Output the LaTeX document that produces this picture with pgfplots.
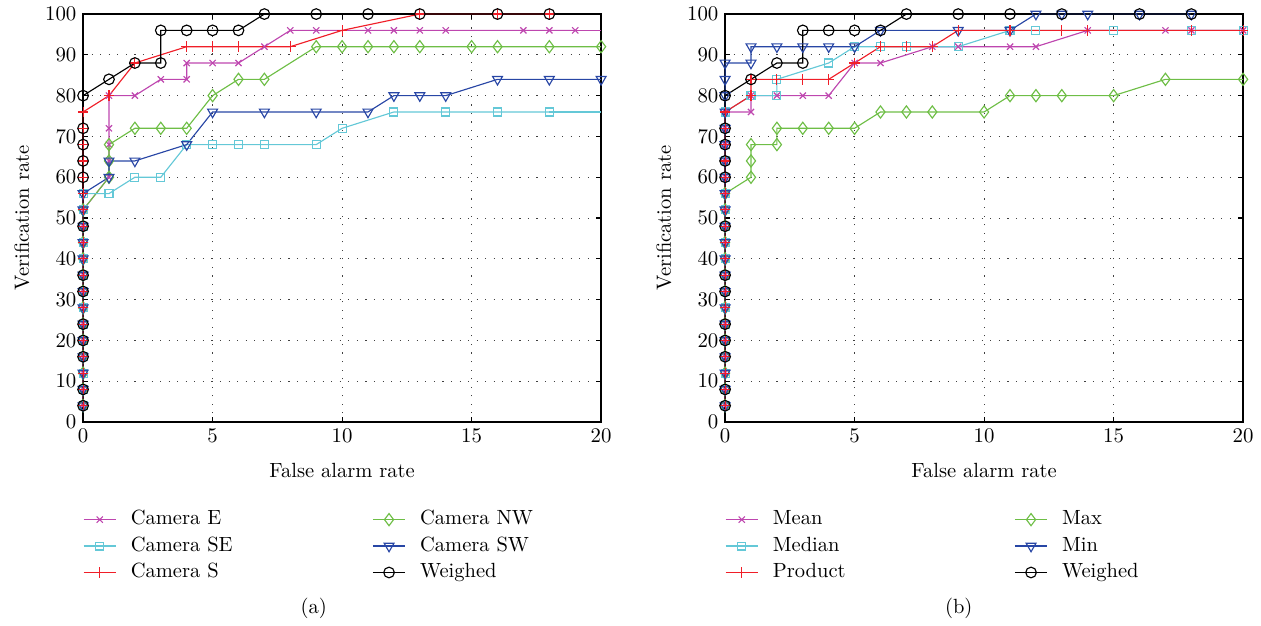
\documentclass[border=0pt]{standalone}
\usepackage{pgfplots}
\pgfplotsset{compat=1.18}
\definecolor{cE}{RGB}{190,70,175}
\definecolor{cSE}{RGB}{100,200,215}
\definecolor{cS}{RGB}{240,30,40}
\definecolor{cNW}{RGB}{110,190,70}
\definecolor{cSW}{RGB}{40,70,165}
\pgfplotsset{
  roc/.style={
    scale only axis, width=272.5pt, height=214.6pt,
    font=\fontsize{10.8}{13}\selectfont,
    xmin=0, xmax=20, ymin=0, ymax=100,
    xtick={0,5,10,15,20}, ytick={0,10,...,100},
    grid=major,
    major grid style={black!75, dash pattern=on 0.6pt off 3.9pt},
    axis line style={black, line width=0.8pt},
    major tick length=2.6pt,
    tick style={black, line width=0.6pt},
    clip=false,
    xlabel={False alarm rate}, ylabel={Verification rate},
    xlabel style={at={(axis description cs:0.5,-0.118)}, anchor=center},
    ylabel style={at={(axis description cs:-0.118,0.5)}, anchor=center, rotate=0},
    legend columns=2,
    legend cell align=left,
    legend style={draw=none, fill=none, at={(axis description cs:-0.012,-0.304)}, anchor=west,
      font=\fontsize{10.8}{13}\selectfont,
      nodes={text height=7.5pt, text depth=2.3pt, inner ysep=2.05pt}, row sep=0pt,
      /tikz/every odd column/.style={column sep=5.5pt}},
  },
  sE/.style={color=cE, line width=0.6pt, mark=x, mark size=2.3pt, mark options={solid}},
  sSE/.style={color=cSE, line width=0.6pt, mark=square, mark size=2.1pt, mark options={solid}},
  sS/.style={color=cS, line width=0.6pt, mark=+, mark size=2.8pt, mark options={solid}},
  sNW/.style={color=cNW, line width=0.6pt, mark=diamond, mark size=3.2pt, mark options={solid}},
  sSW/.style={color=cSW, line width=0.6pt, mark=triangle, mark size=3pt, mark options={solid, rotate=180}},
  sW/.style={color=black, line width=0.6pt, mark=o, mark size=2.8pt, mark options={solid}},
}
\begin{document}
\begin{tikzpicture}
\path[use as bounding box] (0,0) rectangle (663.3pt,328.8pt);
% ---------------- (a)
\begin{axis}[roc, at={(43.7pt,106.8pt)}, anchor=south west]
\addplot[sE] coordinates {(0,4)(0,8)(0,12)(0,16)(0,20)(0,24)(0,28)(0,32)(0,36)(0,40)(0,44)(0,48)(0,52)(1,60)(1,64)(1,68)(1,72)(1,80)(2,80)(3,84)(4,84)(4,88)(5,88)(6,88)(7,92)(8,96)(9,96)(11,96)(12,96)(13,96)(14,96)(17,96)(18,96)(19,96)};
\addlegendentry{\makebox[125pt][l]{Camera E}}
\addplot[sNW] coordinates {(0,4)(0,8)(0,12)(0,16)(0,20)(0,24)(0,28)(0,32)(0,36)(0,40)(0,44)(0,48)(0,52)(1,60)(1,64)(1,68)(2,72)(3,72)(4,72)(5,80)(6,84)(7,84)(9,92)(10,92)(11,92)(12,92)(13,92)(15,92)(16,92)(18,92)(20,92)};
\addlegendentry{Camera NW}
\addplot[sSE] coordinates {(0,4)(0,8)(0,12)(0,16)(0,20)(0,24)(0,28)(0,32)(0,36)(0,40)(0,44)(0,48)(0,52)(0,56)(1,56)(2,60)(3,60)(4,68)(5,68)(6,68)(7,68)(9,68)(10,72)(12,76)(14,76)(16,76)(18,76)};
\addlegendentry{\makebox[125pt][l]{Camera SE}}
\addplot[sSW] coordinates {(0,4)(0,8)(0,12)(0,16)(0,20)(0,24)(0,28)(0,32)(0,36)(0,40)(0,44)(0,48)(0,52)(0,56)(1,60)(1,64)(2,64)(4,68)(5,76)(7,76)(9,76)(11,76)(12,80)(13,80)(14,80)(16,84)(18,84)(20,84)};
\addlegendentry{Camera SW}
\addplot[sS] coordinates {(0,4)(0,8)(0,12)(0,16)(0,20)(0,24)(0,28)(0,32)(0,36)(0,40)(0,44)(0,48)(0,52)(0,56)(0,60)(0,64)(0,68)(0,72)(0,76)(1,80)(2,88)(4,92)(5,92)(6,92)(8,92)(10,96)(13,100)(16,100)(18,100)};
\addlegendentry{\makebox[125pt][l]{Camera S}}
\addplot[sW] coordinates {(0,4)(0,8)(0,16)(0,20)(0,24)(0,32)(0,36)(0,48)(0,60)(0,64)(0,68)(0,72)(0,80)(1,84)(2,88)(3,88)(3,96)(4,96)(5,96)(6,96)(7,100)(9,100)(11,100)(13,100)(16,100)(18,100)};
\addlegendentry{Weighed}
\addplot[color=cE, line width=0.6pt, forget plot] coordinates {(19,96)(20,96)};
\addplot[color=cSE, line width=0.6pt, forget plot] coordinates {(18,76)(20,76)};
\addplot[color=cS, line width=0.6pt, forget plot] coordinates {(18,100)(20,100)};
\addplot[color=black, line width=0.6pt, forget plot] coordinates {(18,100)(20,100)};
\end{axis}
% ---------------- (b)
\begin{axis}[roc, at={(381.4pt,106.8pt)}, anchor=south west]
\addplot[sE] coordinates {(0,4)(0,8)(0,12)(0,16)(0,20)(0,24)(0,28)(0,32)(0,36)(0,40)(0,44)(0,48)(0,52)(0,56)(0,60)(0,64)(0,68)(0,72)(0,76)(1,76)(1,80)(2,80)(3,80)(4,80)(5,88)(6,88)(8,92)(9,92)(11,92)(12,92)(14,96)(17,96)(18,96)(20,96)};
\addlegendentry{\makebox[125pt][l]{Mean}}
\addplot[sNW] coordinates {(0,4)(0,8)(0,12)(0,16)(0,20)(0,24)(0,28)(0,32)(0,36)(0,40)(0,44)(0,48)(0,52)(0,56)(1,60)(1,64)(1,68)(2,68)(2,72)(3,72)(4,72)(5,72)(6,76)(7,76)(8,76)(10,76)(11,80)(12,80)(13,80)(15,80)(17,84)(20,84)};
\addlegendentry{Max}
\addplot[sSE] coordinates {(0,4)(0,8)(0,12)(0,16)(0,20)(0,24)(0,28)(0,32)(0,36)(0,40)(0,44)(0,48)(0,52)(0,56)(0,60)(0,64)(0,68)(0,72)(0,76)(1,80)(2,80)(2,84)(4,88)(5,92)(6,92)(7,92)(9,92)(11,96)(12,96)(15,96)(18,96)(20,96)};
\addlegendentry{\makebox[125pt][l]{Median}}
\addplot[sSW] coordinates {(0,4)(0,8)(0,12)(0,16)(0,20)(0,24)(0,28)(0,32)(0,36)(0,40)(0,44)(0,48)(0,52)(0,56)(0,60)(0,64)(0,68)(0,72)(0,76)(0,80)(0,84)(0,88)(1,88)(1,92)(2,92)(3,92)(4,92)(5,92)(6,96)(9,96)(11,96)(12,100)(13,100)(14,100)(16,100)(18,100)};
\addlegendentry{Min}
\addplot[sS] coordinates {(0,4)(0,8)(0,12)(0,16)(0,20)(0,24)(0,28)(0,32)(0,36)(0,40)(0,44)(0,48)(0,52)(0,56)(0,60)(0,64)(0,68)(0,72)(0,76)(1,80)(1,84)(2,84)(3,84)(4,84)(5,88)(6,92)(7,92)(8,92)(9,96)(11,96)(13,96)(14,96)(18,96)(20,96)};
\addlegendentry{\makebox[125pt][l]{Product}}
\addplot[sW] coordinates {(0,4)(0,8)(0,16)(0,20)(0,24)(0,32)(0,36)(0,48)(0,60)(0,64)(0,68)(0,72)(0,80)(1,84)(2,88)(3,88)(3,96)(4,96)(5,96)(6,96)(7,100)(9,100)(11,100)(13,100)(16,100)(18,100)};
\addlegendentry{Weighed}
\addplot[color=cSW, line width=0.6pt, forget plot] coordinates {(18,100)(20,100)};
\addplot[color=black, line width=0.6pt, forget plot] coordinates {(18,100)(20,100)};
\end{axis}
\node[font=\fontsize{10.8}{13}\selectfont] at (165pt,8.9pt) {(a)};
\node[font=\fontsize{10.8}{13}\selectfont] at (504.3pt,8.9pt) {(b)};
\end{tikzpicture}
\end{document}
